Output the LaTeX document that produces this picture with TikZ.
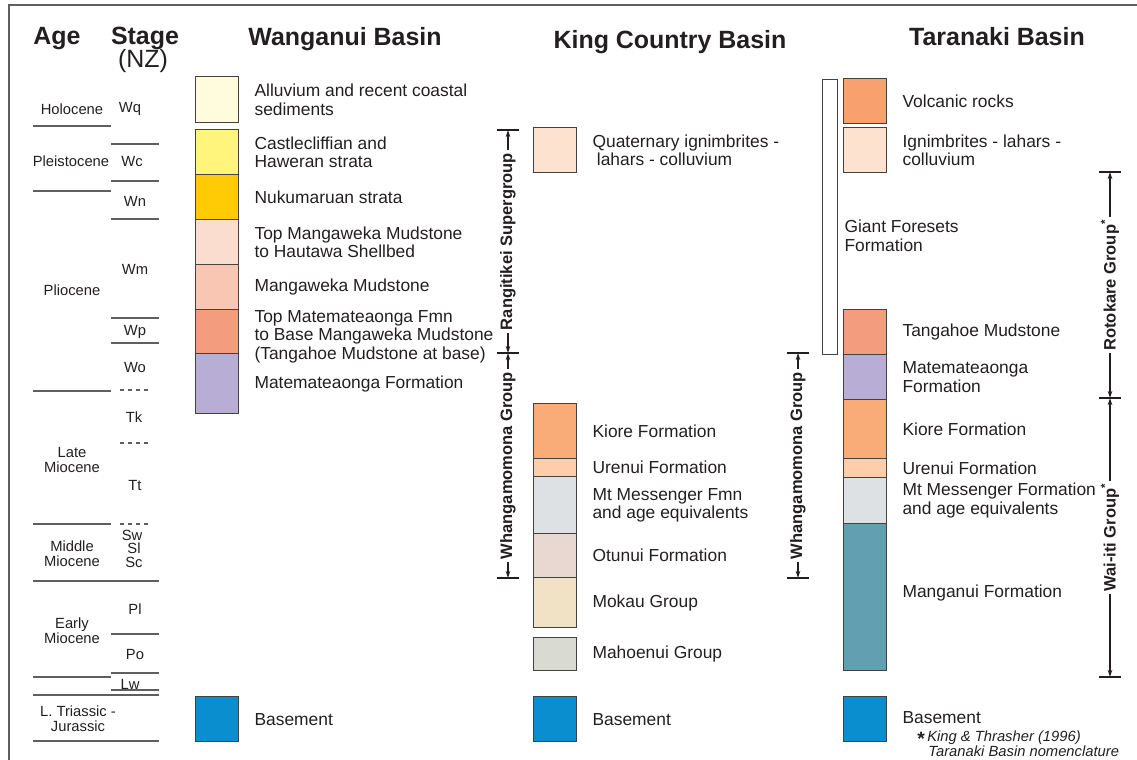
\documentclass[tikz,border=0pt]{standalone}
\usepackage{fontspec}
\setmainfont{Liberation Sans}
\usepackage{xcolor}
\usetikzlibrary{positioning,arrows.meta}
\definecolor{ink}{RGB}{35,31,32}
\definecolor{rule}{RGB}{95,95,95}
\definecolor{cream}{HTML}{FFFBDC}
\definecolor{lemon}{HTML}{FFF57C}
\definecolor{gold}{HTML}{FFCB05}
\definecolor{blush}{HTML}{FBDDD0}
\definecolor{peach}{HTML}{F8C6B3}
\definecolor{salmon}{HTML}{F49C7E}
\definecolor{lilac}{HTML}{B8AED5}
\definecolor{basement}{HTML}{0A8ED0}
\definecolor{rose}{HTML}{FDE2D0}
\definecolor{kiore}{HTML}{F9AC78}
\definecolor{urenui}{HTML}{FDCEA9}
\definecolor{mist}{HTML}{DDE1E4}
\definecolor{otunui}{HTML}{E9D7D1}
\definecolor{mokau}{HTML}{F1E2C6}
\definecolor{mahoe}{HTML}{D9DBD2}
\definecolor{volc}{HTML}{F9A06F}
\definecolor{manganui}{HTML}{629FB0}
\tikzset{>={Stealth[length=4pt,width=2.6pt]}}
\tikzset{
  unitbox/.style={
    draw=ink!85, line width=0.7pt, anchor=north west, inner sep=0pt,
    minimum width=0.86cm, minimum height=#1*0.02cm}}
\tikzset{
  unitname/.style={
    right=0.3cm of #1, align=left, inner sep=0pt, text=ink,
    font=\fontsize{9.9}{10.5}\selectfont}}
\tikzset{
  basin/.style={anchor=base, inner sep=0pt, text=ink, font=\fontsize{14.2}{15}\selectfont\bfseries},
  epoch/.style={align=center, inner sep=0pt, text=ink, font=\fontsize{8.4}{8.5}\selectfont},
  group/.style={fill=white, rotate=90, inner sep=1.5pt, text=ink, font=\fontsize{9.4}{10}\selectfont\bfseries},
  bracket/.style={draw=ink, line width=0.6pt},
  timeline/.style={draw=rule, line width=0.7pt}}

\begin{document}
\begin{tikzpicture}[x=0.02cm,y=-0.02cm]
	\useasboundingbox (0,0) rectangle (1137,760);
	\draw[rule, line width=1pt] (9,760) -- (9,5) -- (1137,5);

	% headings
	\node[basin] (hAge) at (57,45) {Age};
	\node[basin] (hStage) at (145,45) {Stage};
	\node[basin, font=\fontsize{14.2}{15}\selectfont] (hNZ) at (143,68) {(NZ)};
	\node[basin] (hWang) at (345,46) {Wanganui Basin};
	\node[basin] (hKing) at (670,49) {King Country Basin};
	\node[basin] (hTara) at (997,46) {Taranaki Basin};

	% age and stage column
	\foreach \y in {126,191,391,524,677}
		\draw[timeline] (33,\y) -- (111,\y);
	\foreach \y in {581,695,741}
		\draw[timeline] (33,\y) -- (159,\y);
	\foreach \y in {144,181,219,318,343,634,673,690}
		\draw[timeline] (111,\y) -- (159,\y);
	\foreach \y in {390,443,524}
		\draw[timeline, dash pattern=on 2.5pt off 2pt] (120,\y) -- (150,\y);
	\node[epoch] (eHolo) at (72,109) {Holocene};
	\node[epoch] (ePleist) at (71,161) {Pleistocene};
	\node[epoch] (ePlio) at (72,290) {Pliocene};
	\node[epoch] (eLate) at (72,460) {Late\\Miocene};
	\node[epoch] (eMid) at (72,554) {Middle\\Miocene};
	\node[epoch] (eEarly) at (72,631) {Early\\Miocene};
	\node[epoch] (eTrias) at (78,719) {L. Triassic -\\Jurassic};
	\foreach \s/\x/\y in {Wq/130/109,Wc/132/161,Wn/135/201,Wm/135/269,Wp/135/332,Wo/135/367,
		Tk/134/417,Tt/135/485,Sw/132/535,Sl/134/548,Sc/134/562,Pl/135/609,Po/135/654,Lw/130/684}
		\node[epoch] (s\s) at (\x,\y) {\s};

	% Wanganui Basin
	\node[unitbox=46, fill=cream] (wAlluv) at (195,76) {};
	\node[unitname=wAlluv] (wAlluvT) {Alluvium and recent coastal\\sediments};
	\node[unitbox=45, fill=lemon] (wCastle) at (195,129) {};
	\node[unitname=wCastle] (wCastleT) {Castlecliffian and\\Haweran strata};
	\node[unitbox=45, fill=gold] (wNuku) at (195,174) {};
	\node[unitname=wNuku] (wNukuT) {Nukumaruan strata};
	\node[unitbox=45, fill=blush] (wTopMang) at (195,219) {};
	\node[unitname=wTopMang] (wTopMangT) {Top Mangaweka Mudstone\\to Hautawa Shellbed};
	\node[unitbox=45, fill=peach] (wMang) at (195,264) {};
	\node[unitname=wMang] (wMangT) {Mangaweka Mudstone};
	\node[unitbox=44, fill=salmon] (wTopMat) at (195,309) {};
	\node[unitname=wTopMat, yshift=-0.1cm] (wTopMatT) {Top Matemateaonga Fmn\\to Base Mangaweka Mudstone\\(Tangahoe Mudstone at base)};
	\node[unitbox=60, fill=lilac] (wMat) at (195,353) {};
	\node[unitname=wMat] (wMatT) {Matemateaonga Formation};
	\node[unitbox=45, fill=basement] (wBase) at (195,696) {};
	\node[unitname=wBase] (wBaseT) {Basement};

	% King Country Basin
	\node[unitbox=45, fill=rose] (kQuat) at (533,127) {};
	\node[unitname=kQuat] (kQuatT) {Quaternary ignimbrites -\\\hspace*{0.25em}lahars - colluvium};
	\node[unitbox=55, fill=kiore] (kKiore) at (533,403) {};
	\node[unitname=kKiore] (kKioreT) {Kiore Formation};
	\node[unitbox=18, fill=urenui] (kUrenui) at (533,458) {};
	\node[unitname=kUrenui] (kUrenuiT) {Urenui Formation};
	\node[unitbox=57, fill=mist] (kMtM) at (533,476) {};
	\node[unitname=kMtM] (kMtMT) {Mt Messenger Fmn\\and age equivalents};
	\node[unitbox=44, fill=otunui] (kOtunui) at (533,533) {};
	\node[unitname=kOtunui] (kOtunuiT) {Otunui Formation};
	\node[unitbox=50, fill=mokau] (kMokau) at (533,577) {};
	\node[unitname=kMokau] (kMokauT) {Mokau Group};
	\node[unitbox=33, fill=mahoe] (kMahoe) at (533,637) {};
	\node[unitname=kMahoe] (kMahoeT) {Mahoenui Group};
	\node[unitbox=45, fill=basement] (kBase) at (533,696) {};
	\node[unitname=kBase] (kBaseT) {Basement};

	% Taranaki Basin
	\node[unitbox=275, minimum width=0.3cm, fill=white] (tGiant) at (822,79) {};
	\node[unitbox=45, fill=volc] (tVolc) at (843,78) {};
	\node[unitname=tVolc] (tVolcT) {Volcanic rocks};
	\node[unitbox=45, fill=rose] (tIgn) at (843,127) {};
	\node[unitname=tIgn] (tIgnT) {Ignimbrites - lahars -\\colluvium};
	\node[unitname=tGiant, right=0.12cm of tGiant, yshift=-0.37cm] (tGiantT) {Giant Foresets\\Formation};
	\node[unitbox=45, fill=salmon] (tTang) at (843,309) {};
	\node[unitname=tTang] (tTangT) {Tangahoe Mudstone};
	\node[unitbox=45, fill=lilac] (tMat) at (843,354) {};
	\node[unitname=tMat] (tMatT) {Matemateaonga\\Formation};
	\node[unitbox=59, fill=kiore] (tKiore) at (843,399) {};
	\node[unitname=tKiore] (tKioreT) {Kiore Formation};
	\node[unitbox=19, fill=urenui] (tUrenui) at (843,458) {};
	\node[unitname=tUrenui] (tUrenuiT) {Urenui Formation};
	\node[unitbox=46, fill=mist] (tMtM) at (843,477) {};
	\node[unitname=tMtM] (tMtMT) {Mt Messenger Formation\\and age equivalents};
	\node[unitbox=147, fill=manganui] (tMang) at (843,523) {};
	\node[unitname=tMang, yshift=0.08cm] (tMangT) {Manganui Formation};
	\node[unitbox=45, fill=basement] (tBase) at (843,696) {};
	\node[unitname=tBase, yshift=0.04cm] (tBaseT) {Basement};
	\node[anchor=west, align=left, inner sep=0pt, text=ink, font=\fontsize{8.4}{8.7}\selectfont\itshape] (tNote) at (917,744)
		{\smash{\raisebox{-2pt}{\fontsize{11}{8}\selectfont\upshape\bfseries*}}\,King \& Thrasher (1996)\\\hspace*{0.75em}Taranaki Basin nomenclature};

	% group brackets
	\coordinate (rgTop) at (508,130);
	\coordinate (rgBot) at (508,353);
	\coordinate (wgBot) at (508,578);
	\coordinate (kgTop) at (798,353);
	\coordinate (kgBot) at (798,578);
	\coordinate (rkTop) at (1110,172);
	\coordinate (rkBot) at (1110,398);
	\coordinate (wiBot) at (1110,677);
	\foreach \c in {rgTop,rgBot,wgBot,kgTop,kgBot,rkTop,rkBot,wiBot}
		\draw[bracket] ([xshift=-0.22cm]\c) -- ([xshift=0.22cm]\c);
	\draw[bracket,<->] (rgTop) -- node[group] (rgName) {Rangitikei Supergroup} (rgBot);
	\draw[bracket,<->] (rgBot) -- node[group] (wgName) {Whangamomona Group} (wgBot);
	\draw[bracket,<->] (kgTop) -- node[group] (kgName) {Whangamomona Group} (kgBot);
	\draw[bracket,<->] (rkTop) -- node[group] (rkName) {Rotokare Group\textsuperscript{*}} (rkBot);
	\draw[bracket,<->] (rkBot) -- node[group] (wiName) {Wai-iti Group\textsuperscript{*}} (wiBot);
\end{tikzpicture}
\end{document}
